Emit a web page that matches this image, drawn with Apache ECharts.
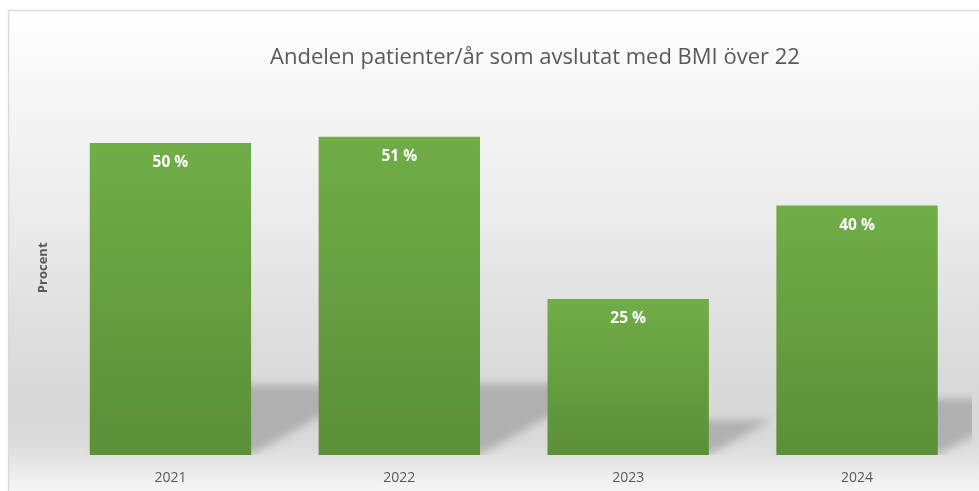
<!DOCTYPE html>
<html>
<head>
<meta charset="utf-8">
<script src="https://cdn.jsdelivr.net/npm/echarts@6/dist/echarts.min.js"></script>
<style>
html,body{margin:0;padding:0;background:#ffffff;}
#chart{width:979px;height:491px;}
</style>
</head>
<body>
<div id="chart"></div>
<script>
var titleText = 'Andelen patienter/år som avslutat med BMI över 22';
var yAxisName = 'Procent';
var categories = ['2021', '2022', '2023', '2024'];
var values = [50, 51, 25, 40];

var chart = echarts.init(document.getElementById('chart'), null, {renderer: 'canvas'});

var barRatio = 0.705;
var font = '"Open Sans", "Noto Sans", sans-serif';
var OFF = 3000;

function renderShadow(params, api) {
  var idx = api.value(0);
  var val = api.value(1);
  var base = api.coord([idx, 0]);
  var top = api.coord([idx, val]);
  var w = api.size([1, 0])[0] * barRatio;
  var xL = base[0] - w / 2 - OFF, xR = base[0] + w / 2 - OFF;
  var b = base[1];
  var H = b - top[1];
  var hh = 0.224 * H, d = 0.40 * H;
  return {
    type: 'polygon',
    shape: {points: [[xL, b], [xR, b], [xR + d, b - hh], [xL + d, b - hh]]},
    style: {
      fill: '#000000',
      shadowBlur: 8,
      shadowColor: 'rgba(0,0,0,0.19)',
      shadowOffsetX: OFF,
      shadowOffsetY: 0
    }
  };
}

var option = {
  backgroundColor: '#ffffff',
  animation: false,
  graphic: [{
    type: 'rect',
    z: -10,
    silent: true,
    shape: {x: 8.5, y: 10.5, width: 1100, height: 600},
    style: {
      stroke: '#d9d9d9',
      lineWidth: 1.5,
      fill: new echarts.graphic.LinearGradient(0, 0, 0, 1, [
        {offset: 0, color: '#ffffff'},
        {offset: 0.12, color: '#f7f7f7'},
        {offset: 0.35, color: '#ebebeb'},
        {offset: 0.55, color: '#dddddd'},
        {offset: 0.65, color: '#d8d8d8'},
        {offset: 0.72, color: '#dadada'},
        {offset: 0.76, color: '#e8e8e8'},
        {offset: 0.81, color: '#f8f8f8'},
        {offset: 1, color: '#fdfdfd'}
      ], false)
    }
  }],
  title: {
    text: titleText,
    left: 530,
    textAlign: 'center',
    top: 42,
    textStyle: {fontFamily: font, fontSize: 22, fontWeight: 'normal', color: '#595959'}
  },
  grid: {left: 56, right: 7.5, top: 80.6, bottom: 36},
  xAxis: {
    type: 'category',
    data: categories,
    axisLine: {show: false},
    axisTick: {show: false},
    axisLabel: {color: '#595959', fontSize: 14, fontFamily: font, margin: 16}
  },
  yAxis: {
    type: 'value',
    min: 0,
    max: 60,
    interval: 10,
    axisLabel: {show: false},
    axisLine: {show: false},
    axisTick: {show: false},
    splitLine: {show: false},
    name: yAxisName,
    nameLocation: 'middle',
    nameRotate: 90,
    nameGap: 6,
    nameTextStyle: {fontFamily: font, fontSize: 13, fontWeight: 'bold', color: '#595959'}
  },
  series: [{
    type: 'custom',
    z: 1,
    clip: true,
    silent: true,
    renderItem: renderShadow,
    data: values.map(function (v, i) { return [i, v]; })
  }, {
    type: 'bar',
    z: 3,
    data: values,
    barCategoryGap: '29.5%',
    itemStyle: {
      color: new echarts.graphic.LinearGradient(0, 0, 0, 1, [
        {offset: 0, color: '#70ad47'},
        {offset: 1, color: '#5b8f38'}
      ])
    },
    label: {
      show: true,
      position: 'insideTop',
      distance: 12,
      formatter: '{c} %',
      color: '#ffffff',
      fontFamily: font,
      fontSize: 15.5,
      fontWeight: 'bold'
    }
  }]
};
chart.setOption(option);
</script>
</body>
</html>
